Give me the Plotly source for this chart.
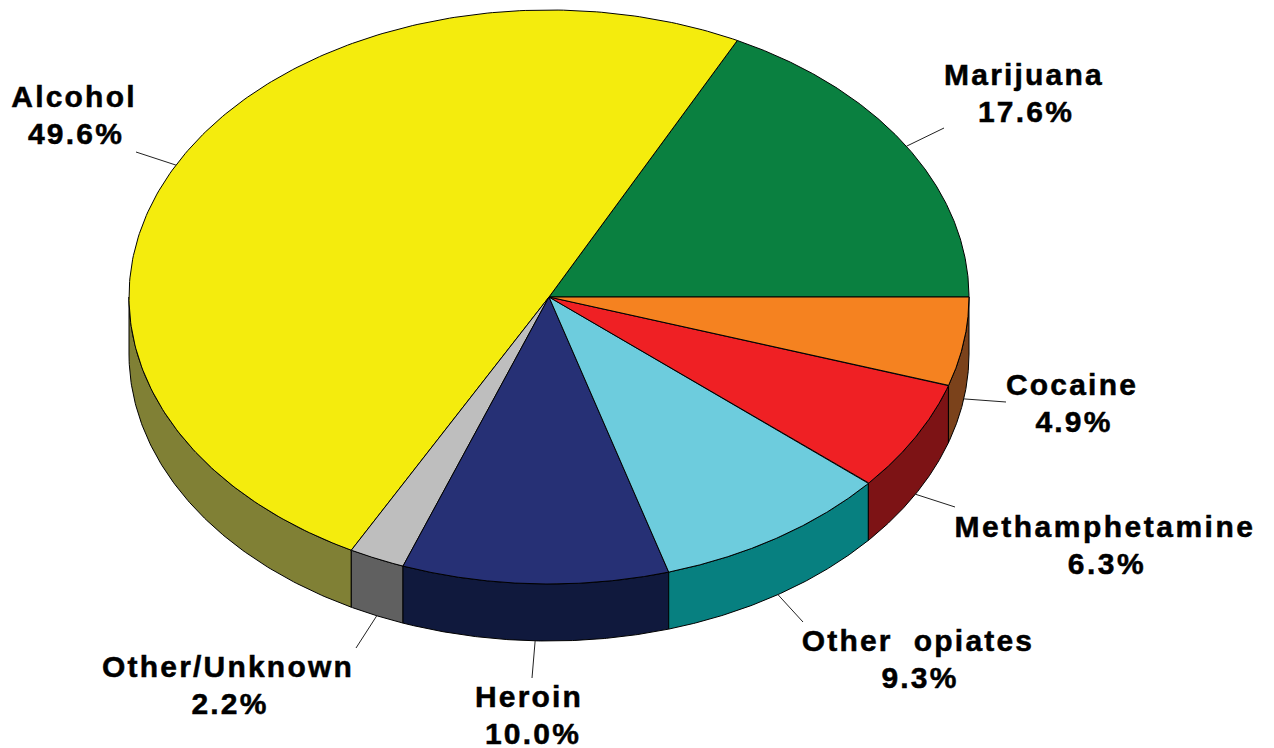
import numpy as np
import plotly.graph_objects as go

# Data, counter-clockwise from the east
categories = ["Marijuana", "Alcohol", "Other/Unknown", "Heroin", "Other  opiates", "Methamphetamine", "Cocaine"]
pct_labels = ["17.6%", "49.6%", "2.2%", "10.0%", "9.3%", "6.3%", "4.9%"]
# Wedge sizes (slightly differ from the printed labels)
shares = [17.6, 49.6, 2.15, 10.25, 9.15, 6.25, 5.0]

# Styles
top_colors = ["#0A8040", "#F4EC0D", "#BEBEBE", "#263075", "#6DCCDD", "#EF2024", "#F58220"]
side_colors = ["#055020", "#808035", "#606060", "#10193D", "#078080", "#7D1315", "#7B421B"]

# Geometry (pixels)
CX, CY, RX, RY, DEPTH = 549.0, 297.0, 420.0, 287.0, 57.0
W, H = 1274, 748
label_x = [1024, 74, 228, 529, 918, 1105, 1072]
label_y = [97, 119, 689, 719, 663, 549, 407]
leader_end_x = [944, 136, 356, 532, 803, 955, 1006]
leader_end_y = [128, 152, 648, 678, 622, 507, 402]


def ell(a_deg, dy=0.0):
    a = np.radians(a_deg)
    return CX + RX * np.cos(a), CY - RY * np.sin(a) + dy


fig = go.Figure()
edges = np.concatenate([[0], np.cumsum(shares)]) / np.sum(shares) * 360

# Side walls: only the front half (180-360 degrees) is visible
for i in range(len(shares)):
    a0, a1 = max(edges[i], 180), min(edges[i + 1], 360)
    if a1 <= a0:
        continue
    arc = np.linspace(a0, a1, 120)
    xt, yt = ell(arc)
    xb, yb = ell(arc[::-1], DEPTH)
    fig.add_trace(go.Scatter(
        x=np.r_[xt, xb, xt[0]], y=np.r_[yt, yb, yt[0]], mode="lines", fill="toself",
        fillcolor=side_colors[i], line=dict(color="black", width=1), hoverinfo="skip"))

# Top wedges
for i in range(len(shares)):
    arc = np.linspace(edges[i], edges[i + 1], 240)
    xt, yt = ell(arc)
    fig.add_trace(go.Scatter(
        x=np.r_[CX, xt, CX], y=np.r_[CY, yt, CY], mode="lines", fill="toself",
        fillcolor=top_colors[i], line=dict(color="black", width=1), hoverinfo="skip"))

# Leader lines from each slice's mid-angle on the rim
for i in range(len(shares)):
    mid = (edges[i] + edges[i + 1]) / 2
    dy = DEPTH if mid > 180 else 0.0
    x0, y0 = ell(mid, dy)
    fig.add_trace(go.Scatter(
        x=[x0, leader_end_x[i]], y=[y0, leader_end_y[i]], mode="lines",
        line=dict(color="#222222", width=1), hoverinfo="skip"))

# Labels
fig.add_trace(go.Scatter(
    x=label_x, y=label_y, mode="text",
    text=[f"{c}<br>{p}" for c, p in zip(categories, pct_labels)],
    textposition="middle center",
    textfont=dict(family="Liberation Sans", size=30, color="black", weight="bold"),
    hoverinfo="skip"))

fig.update_layout(
    width=W, height=H, margin=dict(l=0, r=0, t=0, b=0), showlegend=False,
    paper_bgcolor="white", plot_bgcolor="white",
    xaxis=dict(range=[0, W], visible=False, fixedrange=True),
    yaxis=dict(range=[H, 0], visible=False, fixedrange=True),
)

post = """
document.body.style.margin = '0';
document.querySelectorAll('.textpoint text').forEach(function (t) {
  var meth = t.textContent.indexOf('Meth') === 0;
  t.style.letterSpacing = meth ? '2.5px' : '2.2px';
  t.style.whiteSpace = 'pre';
  t.style.stroke = 'black';
  t.style.strokeWidth = '0.5px';
  t.querySelectorAll('tspan.line').forEach(function (s) {
    if (s.getAttribute('dy') && parseFloat(s.getAttribute('dy')) !== 0) {
      s.setAttribute('dy', '37px');
      s.setAttribute('dx', t.textContent.indexOf('Heroin') === 0 ? '4' : '2');
    }
  });
});
"""
fig.write_html("out.html", post_script=post, config={"displayModeBar": False})
